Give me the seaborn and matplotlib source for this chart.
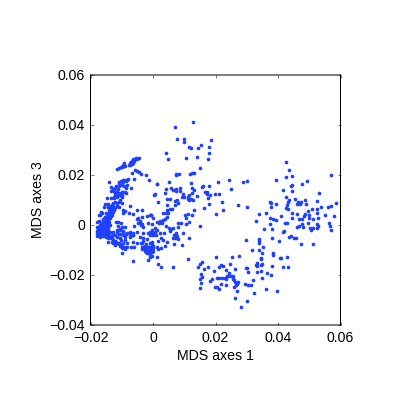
import matplotlib
matplotlib.use("Agg")
import matplotlib.pyplot as plt
import pandas as pd
import seaborn as sns

# values are in thousandths of an MDS unit
top_scatter = [(12.9,41.1),(7,39.2),(7.6,34.4),(10,34.5),(10,33.1),(11.4,31.3),(12.1,30.9),(14.3,30.7),(15.5,31.9),(17.9,31.2),(18.6,33.9),
 (4.2,28.9),(4.8,26.3),(10.6,26.9),(14,27.2),(18,28.8),(17.7,26.4),(15,22.7),(7.4,20.3),(8.4,20.5),(11.9,20.3),(12.6,20.9),(13.1,20.7)]
streak = [(-11.4,22.4),(-10.8,22.9),(-10.3,23.3),(-9.9,23.3),(-9.5,24),(-9.2,24.7),(-8.9,23.7),(-9.3,23.6),(-7.8,24.1),(-7.4,24.9),(-7,25.3),
 (-6.7,25.7),(-6.5,26.3),(-6.3,24.7),(-6.1,25.6),(-5.8,26.5),(-5.4,26.9),(-5,26.5),(-4.4,26.8),(-6.8,24.4),(-6.5,25.1),(-7.4,24.1)]
upper_left = [(-5.8,22.1),(-6.7,20.7),(-5.2,21.5),(-4.4,21.1),(-3.8,20.3),(-2.1,20),(-1.2,18.1),(1.4,16.4),(-6.2,18.3),(-7.9,18.4),(-8.2,18),
 (-8.7,17.7),(-9.5,18.1),(-9.9,17.6),(-14.1,17),(-11,17.1),(-9.7,17),(-8.3,16),(-10,16),(-9.4,15.6),(-10.8,15.6),(-13.4,15.3),(-12,15.7),
 (-12.9,14.5),(-13.4,13.7),(-12.5,13.7),(-11.6,13.3),(-12.2,12.9),(-10.8,12.9),(-10,13.1),(-9,13.1),(-6.9,14.8),(-11.3,14.5),(-12.2,12),
 (-10,12),(-8.6,12.9),(-14.8,10.9),(-13.5,10.9),(-12.4,10.8),(-11.1,12),(-10,11),(-12.3,14.7),(-11,16.7),(-10.1,17.7),(-9.1,18),(-8.5,14.7),
 (-11.7,13.3),(-10.7,12),(-9.9,13.3)]
left_band = [(-12.5,11.1),(-10.3,12),(-11.6,11.1),(-10.6,10),(-12.2,9.3),(-10.9,9.3),(-12.7,8.7),(-11.6,8.7),(-10,8.7),(-15.4,8.4),(-14.3,8.4),
 (-13.2,8),(-15.7,7.3),(-14.3,7.3),(-12.7,7.6),(-11.6,7.6),(-10.8,7.3),(-7.4,7.7),(-13.2,6.7),(-12.2,6.7),(-9.7,6),(-9,5.7),(-5,6.1),(-3.6,5.9),
 (-16.4,4.9),(-13.8,5.3),(-12.7,5.3),(-9.5,4.7),(-7.7,4.7),(-6.3,4.5),(-14.3,4),(-15.4,3.3),(-13.2,4),(-17,4),(-15.9,2.3),(-14.8,2.7),(-13.8,2.7),
 (-3.6,3.1),(-2,3.6),(-0.5,3.9),(-5,2.3),(-4.2,1.7),(-17.3,1.7),(-18,1.3),(-16.1,1.3),(-15.1,1.3),(-14,1.3),(-11.1,1.3),(-10.3,0.7),(-4.7,0.7),
 (-6.1,-0.3),(-1.5,0.7),(-3.6,0.4),(-3.1,-0.9),(-17,0),(-15.9,0),(-14.8,0),(-13.8,0),(-17.7,-0.7),(-16.4,-1.1),(-15.4,-1.1),(-14.3,-1.1),(-10,-0.7),
 (-9,-0.9),(-10.6,-2),(-9.5,-2.3),(-7.4,-2.7),(-5.2,-2.7),(-18,-2.3),(-17,-2.3),(-15.9,-2.3),(-14.8,-2.3),(-13.8,-2.7),(-12.7,-2.7),(-11.4,-2.7),
 (-18,-3.3),(-17.3,-3.6),(-16.4,-3.6),(-15.4,-3.3),(-14.3,-3.6),(-17.8,-4.3),(-17,-4.7),(-15.9,-4.4),(-15,-4.9),(-13.2,-4),(-12.2,-4),(-10.8,-3.6),
 (-9.7,-4),(-8.2,-3.3),(-7.4,-3.3),(-6.5,-3.3),(-3.3,-3.1),(-1.5,-3.3),(-0.4,-3.1),(-14.3,-5.3),(-13.2,-5.3),(-11.6,-4.9),(-10.6,-5.1),(-9,-4.9),
 (-7.4,-4.7),(-6.3,-4),(-4.2,-4.7),(-1,-4),(-14.3,-6.7),(-13.2,-6.7),(-12.2,-6.7),(-10.3,-6),(-9,-6),(-3.1,-5.3),(-2,-5.7),(-12.7,-7.3),(-11.6,-7.3),
 (-10.8,-7.6),(-9.7,-7.3),(-8.4,-7.1),(-6.3,-6.7),(-5,-7.3),(-3.6,-7.3),(-12.2,-8),(-10.6,-8.4),(-9.3,-8.7),(-8.4,-8.7),(-7.1,-8.7),(-6.1,-8.7),
 (-3.6,-8.7),(-2.6,-8.4),(-1,-7.3),(-10,-9.3),(-9,-9.6),(-3.6,-9.7),(-2.6,-9.3),(-1.5,-8.9),(-10,-11.3),(-2.6,-10.4),(-1.5,-10.4),(-0.7,-10),
 (-2,-11.3),(-1,-11.3),(-6.3,-14.3),(-1.5,-14),(-1,-12.7),(-0.2,-12.3),
 (-14.4,-4),(-13.9,-4.7),(-13.3,-5.3),(-12.8,-6),(-12.3,-6.4),(-11.7,-6.9),(-11,-7.3),(-10.1,-8),(-9.4,-8.7),
 (-11.4,-2),(-10.7,-1.6),(-9.6,-2.7),(-8.5,-3.7),(-7.5,-3.3),(-6.4,-4),(-7.5,-4.3),(-10.7,-3.7),(-11.2,-0.3),(-11.7,1.3),
 (-3.2,-8.7),(-2.1,-7.7),(-1.1,-8.7),(-2.7,-10),(-1.6,-10),(-0.5,-9.3),(-3.7,-7.3),(0,-8.3),(-2.1,-11),(-3.2,-6.4),
 (-4.8,2.7),(-3.7,0),(-4.3,1.3),(-1.1,4)]
dense_blob = [(-18,-1),(-17.5,-1.5),(-17,-1),(-16.5,-0.5),(-16,-1.5),(-15.5,-0.5),(-15,-1.5),(-14.5,0.5),(-16.5,0.7),(-15.5,0.7),(-14.5,2),(-15.3,2),
 (-14.5,3.5),(-13.5,3.5),(-14,4.7),(-13.3,6),(-14,6),(-13,5),(-12.5,6),(-13.5,7.5),(-17,-3),(-16,-3),(-15,-3),(-16.5,-2),(-15.5,-2),(-14.5,-2),
 (-17.5,-2.8),(-15.5,-4),(-14.5,-4.2),(-16.5,-4.2),(-14.4,7.3),(-13.9,6.4),(-14.9,4.7),(-15.5,3.3),(-16,2),(-16.5,0),(-17,-1.3),(-16,-2),(-14.9,-0.7),
 (-14.4,4),(-13.3,6.1),(-12.8,7.3),(-15.7,0.7),(-17.4,4),(-16.5,5.3)]
middle = [(7.3,20.1),(1.4,16.4),(5.2,17.3),(12.3,16.7),(24.2,18.1),(20.8,17.1),(18,15.5),(16.1,15.6),(15.6,15.1),(24.8,14.3),(4.2,14.4),(5.8,14.7),
 (6.3,14),(7.4,14.4),(8.6,14.7),(7.3,13.7),(8.6,13.7),(12.6,14.7),(13.1,14),(16.6,13.2),(17.4,13.1),(17.2,12.4),(19.9,12.4),(21.1,12.5),(3.9,12.7),
 (0.6,12.4),(0.2,11.9),(9.7,12.5),(12.4,12.7),(11.5,12.1),(14.1,11.6),(18.1,12),(17.5,10.9),(9.2,11.3),(10,11.1),(11.1,11.1),(11.1,10.4),(12.1,10.3),
 (12.7,10),(11.6,9.9),(4.6,10.5),(5.4,10.5),(7.6,10),(7,9.7),(1.7,9.1),(8.1,8.7),(22,9.3),(18,8.5),(27.3,7.9),(4.4,7.9),(7,8),(16.3,6.8),(22.4,6),
 (20.2,4.5),(13.1,5.9),(6.2,6.3),(5.4,6.3),(4.6,6),(4.1,4.9),(3.1,4.9),(4.8,4.7),(11.3,4.4),(12.4,4),(10.2,4.1),(10.6,2.9),(4.4,3.3),(3.8,2.4),(3.1,2),
 (2.2,1.7),(-0.6,4),(-0.1,2.7),(1.2,1.3),(2,0.7),(2.8,0.7),(-0.2,0.3),(11.6,1.1),(8.1,0.7),(8.9,0.7),(10.4,0.3),(7.9,-0.7),(15,-0.5),(4.2,-0.4),
 (5.1,-1.3),(5.8,-1.7),(6.5,-1.3),(5.4,-2.3),(1.2,-2),(0.6,-1.3),(-0.4,-2),(-1,-2.7),(0.5,-2.7),(2.2,-3.1),(3.6,-3.1),(-0.1,-4),(0.9,-4),(7.4,-3.3),
 (9.7,-3.1),(6.7,-4),(6.3,-5.1),(7,-5.1),(7.6,-4.4),(8.1,-5.7),(11.6,-5.3),(2.5,-5.3),(3.1,-6),(-0.2,-6.9),(4.6,-6.7),(1.7,-6.5),(6.7,-7.7),(9.2,-7.9),
 (3.8,-8.4),(2.5,-9.1),(1.4,-8.7),(-0.4,-7.6),(1.7,-9.6),(0.1,-9.3),(-0.6,-9.6),(-0.4,-10.9),(0.1,-10.4),(-1,-12),(1.4,-12.8),(1.6,-15.7),(2.6,-16.9),
 (6.4,-16.9),(11.3,-13.7)]
right_cloud = [(28.7,17),(30.1,17.6),(39.2,18),(42.6,25.1),(43.6,22.1),(44.6,19.7),(42.6,19.1),(56.8,19.9),(49.2,17.7),(47.6,16.4),(44.6,16.1),(44.1,15.7),
 (41.7,14),(44.6,13.5),(53.1,12.8),(30.1,7.3),(37.3,9.1),(37.8,8.9),(39.2,8.4),(37.7,7.3),(42.6,11.3),(43.5,10.1),(43.2,9.1),(43,8),(42.6,6.9),(45.4,10.5),
 (46,8.5),(46.4,9.1),(47.3,9.3),(47,8.5),(48.6,10.1),(48.8,8.4),(50.9,6.4),(52.5,9.5),(53.7,7.1),(55.9,7.2),(57.1,7.6),(58.7,8.9),(36.3,4.9),(34,4.4),
 (33,1.6),(37.3,2.7),(38.3,2.3),(39.3,2),(37.5,0.3),(35.4,-1.6),(38,-1.7),(41.1,3.7),(44.6,4.7),(44.6,2.7),(46,4.5),(43.3,6.3),(46.8,2.5),(47.7,2.4),
 (48.6,4.4),(48.3,3.6),(49.7,5.7),(49.8,4.1),(49.8,2.8),(52.4,4.7),(52.4,6.5),(55,4.1),(57.8,3.6),(52.8,2.7),(51.1,2.3),(42.2,0.7),(43,0.7),(46.2,-0.9),
 (46.6,-0.3),(47.6,0.3),(48,-0.7),(49.7,0.7),(50.2,-1.1),(50.6,-2),(51.1,-1.2),(52.4,-1.3),(52.9,-0.4),(52.6,0.3),(56.2,0.9),(56.6,-0.5),(56.9,-2),
 (41.9,-2.3),(41.7,-2.7),(44,-4.3),(43.4,-4.9),(45.2,-5.1),(45.7,-5.2),(47.4,-7.6),(51.2,-7.5),(40.3,-6.3),(38,-5.3)]
lower_arc = [(29.9,-6),(33.8,-5.6),(33.8,-6.4),(34,-7.2),(35.3,-8.7),(31.8,-9.9),(34,-10.1),(35,-11.3),(38.3,-11.2),(38.4,-11.9),(34.6,-13.3),(34.7,-13.7),
 (33.2,-15.3),(33,-16),(33.2,-16.4),(34.7,-16.1),(34.8,-15.6),(40.6,-13.3),(41.1,-13.3),(42.8,-12.9),(41.7,-16.8),(43.1,-16.8),(38.2,-16.3),(36.6,-19.3),
 (37.8,-20.1),(34.6,-18.4),(33.3,-18.7),(34.9,-21.3),(32,-21.9),(30.2,-17.3),(29.7,-17.3),(30.3,-18.7),(27.6,-12.3),(25.4,-12.8),(24.6,-15.6),(20,-12.7),
 (15.6,-14.8),(15,-15.6),(14.3,-16.9),(17.5,-16.9),(19.4,-18.5),(21.2,-16.7),(21.9,-16.1),(22.3,-16.5),(23.2,-18.1),(24.3,-19.1),(26.1,-17.5),(20.6,-21.1),
 (21.2,-21.1),(22.2,-21.1),(23,-21.2),(23.6,-20.4),(24.1,-20.4),(24.9,-20.3),(25.5,-20.4),(23.3,-21.7),(25.5,-21.7),(25.9,-22),(18.9,-21.7),(18.3,-22.3),
 (15,-21.6),(21.6,-23.5),(19.8,-24.8),(20.4,-24.7),(21.1,-25.5),(15,-25.3),(23.3,-24),(26.3,-22.8),(27.1,-22.7),(27,-23.5),(26.6,-24),(26,-24.7),(29.4,-23.5),
 (30.4,-24),(31.2,-24),(32.4,-27.3),(26.9,-26.5),(26.2,-29.3),(30.1,-30.3),(28.3,-32.8),(36.2,-25.6),(39.7,-26.5),(15.3,-19.8),(15.6,-20.8),(15.2,-23.2),(16.3,-17.8)]

x_ticks = [-0.02, 0, 0.02, 0.04, 0.06]
y_ticks = [-0.04, -0.02, 0, 0.02, 0.04, 0.06]
x_label = "MDS axes 1"
y_label = "MDS axes 3"

groups = [top_scatter, streak, upper_left, left_band, dense_blob, middle, right_cloud, lower_arc]
df = pd.DataFrame([p for g in groups for p in g], columns=["a", "b"]) / 1000.0

sns.set_style("white")
plt.rcParams["font.family"] = ["Liberation Sans", "DejaVu Sans"]
fig = plt.figure(figsize=(4.15, 4.15), dpi=100)
ax = fig.add_axes([90.5 / 415, 90 / 415, 250 / 415, 250 / 415])
sns.scatterplot(data=df, x="a", y="b", ax=ax, s=7, color="#2040ff", linewidth=0, clip_on=True)
ax.set_xlim(-0.02, 0.06)
ax.set_ylim(-0.04, 0.06)
ax.set_xticks(x_ticks)
ax.set_yticks(y_ticks)


def fmt(v):
    return "0" if v == 0 else f"{v:.2f}".replace("-", "\u2212")


ax.set_xticklabels([fmt(v) for v in x_ticks])
ax.set_yticklabels([fmt(v) for v in y_ticks])
ax.tick_params(axis="both", which="both", direction="in", length=2, width=0.5, color="#404040",
               top=True, right=True, bottom=True, left=True, labelsize=10.2, labelcolor="black", pad=4)
ax.set_xlabel(x_label, fontsize=10.2, labelpad=3, color="black")
ax.set_ylabel(y_label, fontsize=10.2, labelpad=3, color="black")
for s in ax.spines.values():
    s.set_visible(True)
    s.set_color("black")
    s.set_linewidth(0.72)
    s.set_snap(False)
ax.grid(False)
fig.savefig("out.png", dpi=100)
